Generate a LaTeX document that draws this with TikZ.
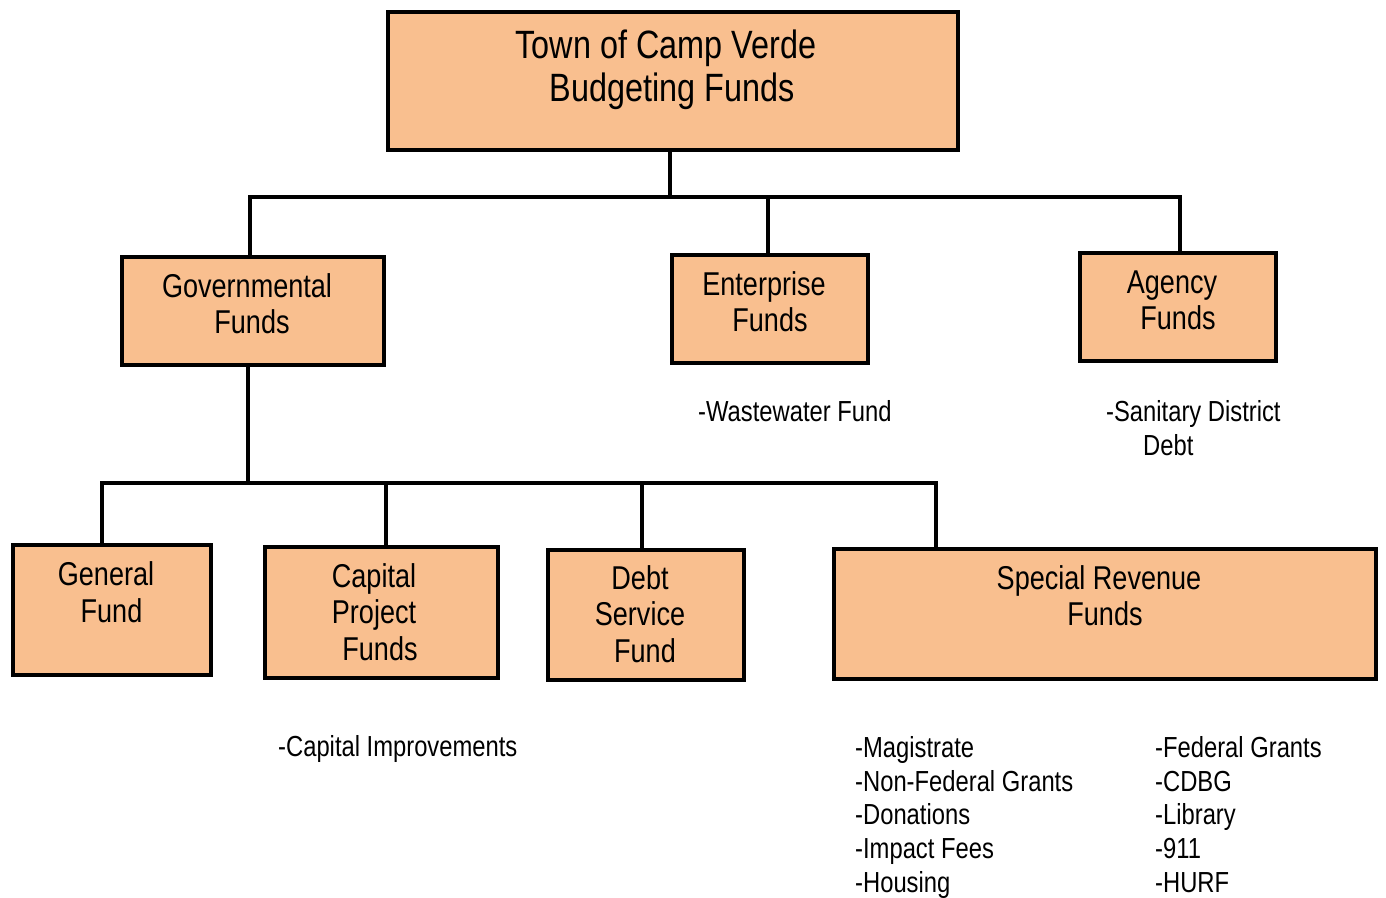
\documentclass[tikz,border=0pt]{standalone}
\usepackage{fontspec}
\setmainfont{Liberation Sans}[FakeStretch=0.82]
\definecolor{boxfill}{HTML}{F9BF8F}
\begin{document}
\begin{tikzpicture}[x=1pt,y=-1pt,
  fbox/.style={draw=black,line width=4pt,fill=boxfill,inner sep=0pt,rectangle},
  conn/.style={line width=3.5pt,line cap=rect},
  btxt/.style={anchor=base,inner sep=0pt,font=\fontsize{33}{40}\selectfont},
  ttxt/.style={anchor=base,inner sep=0pt,font=\fontsize{39.5}{44}\selectfont},
  stxt/.style={anchor=base west,inner sep=0pt,font=\fontsize{29}{34}\selectfont}]
\useasboundingbox (0,0) rectangle (1386,897);
% boxes
\node[fbox,minimum width=570pt,minimum height=138pt] (top) at (673,81) {};
\node[fbox,minimum width=262pt,minimum height=108pt] (gov) at (253,311) {};
\node[fbox,minimum width=196pt,minimum height=108pt] (ent) at (770,309) {};
\node[fbox,minimum width=196pt,minimum height=108pt] (agy) at (1178,307) {};
\node[fbox,minimum width=198pt,minimum height=130pt] (gen) at (112,610) {};
\node[fbox,minimum width=233pt,minimum height=131pt] (cap) at (381.5,612.5) {};
\node[fbox,minimum width=196pt,minimum height=130pt] (debt) at (646,615) {};
\node[fbox,minimum width=542pt,minimum height=130pt] (spec) at (1105,614) {};
% connectors
\coordinate (busL) at (250,197);
\coordinate (busR) at (1180,197);
\coordinate (busM) at (248,483);
\coordinate (bus2L) at (102,483);
\coordinate (bus2R) at (936,483);
\coordinate (capT) at (386,483);
\coordinate (debtT) at (642,483);
\draw[conn] (busL) -- (busR);
\draw[conn] (top.south -| 670,0) -- (busL -| 670,0);
\draw[conn] (busL) -- (busL |- gov.north);
\draw[conn] (busL -| 768,0) -- (ent.north -| 768,0);
\draw[conn] (busR) -- (busR |- agy.north);
\draw[conn] (busM |- gov.south) -- (busM);
\draw[conn] (bus2L) -- (bus2R);
\draw[conn] (bus2L) -- (bus2L |- gen.north);
\draw[conn] (capT) -- (capT |- cap.north);
\draw[conn] (debtT) -- (debtT |- debt.north);
\draw[conn] (bus2R) -- (bus2R |- spec.north);
% box texts
\node[ttxt] (t1) at (666,58) {Town of Camp Verde};
\node[ttxt] (t2) at (672,101) {Budgeting Funds};
\node[btxt] (g1) at (247,297) {Governmental};
\node[btxt] (g2) at (252,333) {Funds};
\node[btxt] (e1) at (764,295) {Enterprise};
\node[btxt] (e2) at (770,331) {Funds};
\node[btxt] (a1) at (1172,293) {Agency};
\node[btxt] (a2) at (1178,329) {Funds};
\node[btxt] (ge1) at (106,585) {General};
\node[btxt] (ge2) at (111.5,622) {Fund};
\node[btxt] (c1) at (374,587) {Capital};
\node[btxt] (c2) at (374,623) {Project};
\node[btxt] (c3) at (380,660) {Funds};
\node[btxt] (d1) at (640,589) {Debt};
\node[btxt] (d2) at (640,625) {Service};
\node[btxt] (d3) at (645,662) {Fund};
\node[btxt] (s1) at (1099,589) {Special Revenue};
\node[btxt] (s2) at (1105,625) {Funds};
% side texts
\node[stxt] (ww) at (698,421) {-Wastewater Fund};
\node[stxt] (sd1) at (1106,421) {-Sanitary District};
\node[stxt] (sd2) at (1143,455) {Debt};
\node[stxt] (ci) at (278,756) {-Capital Improvements};
\node[stxt] (l1) at (855,757) {-Magistrate};
\node[stxt] (l2) at (855,791) {-Non-Federal Grants};
\node[stxt] (l3) at (855,824) {-Donations};
\node[stxt] (l4) at (855,858) {-Impact Fees};
\node[stxt] (l5) at (855,892) {-Housing};
\node[stxt] (r1) at (1155,757) {-Federal Grants};
\node[stxt] (r2) at (1155,791) {-CDBG};
\node[stxt] (r3) at (1155,824) {-Library};
\node[stxt] (r4) at (1155,858) {-911};
\node[stxt] (r5) at (1155,892) {-HURF};
\end{tikzpicture}
\end{document}
